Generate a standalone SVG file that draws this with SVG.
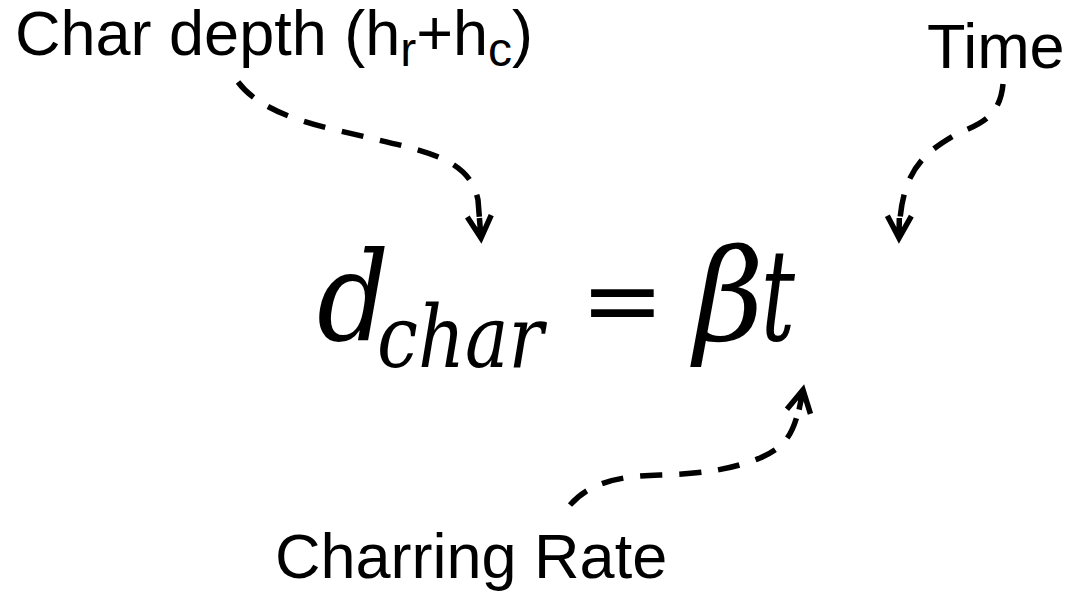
<svg xmlns="http://www.w3.org/2000/svg" width="1071" height="594" viewBox="0 0 1071 594">
<style>
.lbl{font-family:"Liberation Sans",Arial,sans-serif;font-size:63px;fill:#000}
.sub{font-size:48px}
.eq{font-family:"DejaVu Serif",serif;font-style:italic;fill:#000}
.conn{fill:none;stroke:#000;stroke-width:5.5;stroke-dasharray:22 17;marker-end:url(#ah)}
</style>
<defs>
<marker id="ah" markerUnits="userSpaceOnUse" refX="0" refY="0" markerWidth="40" markerHeight="40" orient="auto" overflow="visible">
<path d="M -22 -12 L 0 0 L -22 12 M -20 0 L 0 0" fill="none" stroke="#000" stroke-width="5.5" stroke-linejoin="miter"/>
</marker>
</defs>
<rect width="1071" height="594" fill="#fff"/>
<g id="label-char-depth"><text class="lbl" x="15" y="55">Char depth (h<tspan class="sub" dy="11">r</tspan><tspan dy="-11">+h</tspan><tspan class="sub" dy="11">c</tspan><tspan dy="-11">)</tspan></text></g>
<g id="label-time"><text class="lbl" x="927" y="68">Time</text></g>
<g id="label-charring-rate"><text class="lbl" x="275" y="578">Charring Rate</text></g>
<g id="equation">
<text class="eq" font-size="124" transform="translate(317 340) scale(0.91 1)">d</text>
<text class="eq" font-size="86" transform="translate(377 367) scale(0.85 1)">char</text>
<text x="622.5" y="334" font-size="100" text-anchor="middle" font-family="DejaVu Serif,serif">=</text>
<text class="eq" font-size="127" transform="translate(694 340) scale(0.95 1)">β</text>
<text class="eq" font-size="128" transform="translate(761 340) scale(0.66 1)">t</text>
</g>
<g id="connectors">
<path class="conn" d="M 238 82 C 265 118 330 128 370 138 C 430 152 470 160 478 200 L 481 238"/>
<path class="conn" d="M 1003 84 C 1000 120 975 125 955 135 C 920 155 900 175 899 238"/>
<path class="conn" d="M 570 505 C 590 482 620 476 660 475 C 700 474 730 470 760 458 C 790 445 795 430 803 390"/>
</g>
</svg>
